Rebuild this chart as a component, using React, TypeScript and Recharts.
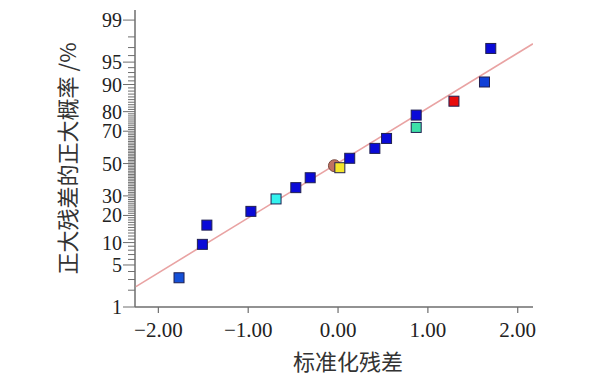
import React from "react";
import { ScatterChart, Scatter, XAxis, YAxis } from "recharts";

// standardized residual vs. normal % probability
const residuals = [-1.77, -1.51, -1.46, -0.97, -0.69, -0.47, -0.31, -0.04, 0.02, 0.13, 0.41, 0.54, 0.87, 0.87, 1.29, 1.63, 1.7];
const probabilities = [3.2, 9.5, 15.9, 21.9, 28.3, 34.8, 40.9, 48.6, 47.3, 53.4, 59.7, 65.8, 78.4, 72.1, 84.4, 90.7, 96.9];
const pointColors = [
  "#1550d8", "#0a0ad8", "#0a0ad8", "#0a0ad8", "#33f2ee", "#0a0ad8", "#0a0ad8", "#c07262", "#f5e62a",
  "#0a0ad8", "#0a0ad8", "#0a0ad8", "#0a0ad8", "#3ee0a8", "#e80c0c", "#1040d8", "#0a0ad8",
];
const pointShapes = ["sq", "sq", "sq", "sq", "sq", "sq", "sq", "circle", "sq", "sq", "sq", "sq", "sq", "sq", "sq", "sq", "sq"];

// fitted normal line (residual, %)
const fitResiduals = [-2.25, 2.17];
const fitProbabilities = [2.3, 97.4];

const xTicks = [-2, -1, 0, 1, 2];
const yLabelTicks = [1, 5, 10, 20, 30, 50, 70, 80, 90, 95, 99];
const yMinorTicks = Array.from({ length: 99 }, (_, i) => i + 1);

// inverse normal cdf (Acklam)
function probit(p: number) {
  const a = [-39.69683028665376, 220.9460984245205, -275.9285104469687, 138.357751867269, -30.66479806614716, 2.506628277459239];
  const b = [-54.47609879822406, 161.5858368580409, -155.6989798598866, 66.80131188771972, -13.28068155288572];
  const c = [-0.007784894002430293, -0.3223964580411365, -2.400758277161838, -2.549732539343734, 4.374664141464968, 2.938163982698783];
  const d = [0.007784695709041462, 0.3224671290700398, 2.445134137142996, 3.754408661907416];
  const pl = 0.02425;
  if (p < pl) {
    const q = Math.sqrt(-2 * Math.log(p));
    return (((((c[0] * q + c[1]) * q + c[2]) * q + c[3]) * q + c[4]) * q + c[5]) / ((((d[0] * q + d[1]) * q + d[2]) * q + d[3]) * q + 1);
  }
  if (p > 1 - pl) {
    const q = Math.sqrt(-2 * Math.log(1 - p));
    return -(((((c[0] * q + c[1]) * q + c[2]) * q + c[3]) * q + c[4]) * q + c[5]) / ((((d[0] * q + d[1]) * q + d[2]) * q + d[3]) * q + 1);
  }
  const q = p - 0.5;
  const r = q * q;
  return ((((((a[0] * r + a[1]) * r + a[2]) * r + a[3]) * r + a[4]) * r + a[5]) * q) / (((((b[0] * r + b[1]) * r + b[2]) * r + b[3]) * r + b[4]) * r + 1);
}

const z = (pct: number) => probit(pct / 100);

const points = residuals.map((x, i) => ({ x, y: z(probabilities[i]), color: pointColors[i], shape: pointShapes[i] }));
const fitData = fitResiduals.map((x, i) => ({ x, y: z(fitProbabilities[i]) }));

const yTickValues = yMinorTicks.map(z);
const labelSet = new Set(yLabelTicks);

const NUM_FONT = "'Liberation Serif', 'Times New Roman', serif";
const CJK_FONT = "'Noto Sans CJK SC', sans-serif";
const AXIS = "#6e6e6e";

const Marker = (props: any) => {
  const { cx, cy, payload } = props;
  if (payload.shape === "circle") {
    return <circle cx={cx} cy={cy} r={6} fill={payload.color} stroke="#7a4a40" strokeWidth={1} />;
  }
  return <rect x={cx - 5} y={cy - 5} width={10} height={10} fill={payload.color} stroke="#202050" strokeWidth={1} />;
};

const YTick = (props: any) => {
  const { x, y, index } = props;
  const pct = yMinorTicks[index];
  const major = labelSet.has(pct);
  return (
    <g>
      <line x1={x - (major ? 12 : 7)} x2={x} y1={y} y2={y} stroke={AXIS} strokeWidth={1} />
      {major && (
        <text x={x - 13} y={y} dy="0.35em" textAnchor="end" fontFamily={NUM_FONT} fontSize={20} fill="#222">
          {pct}
        </text>
      )}
    </g>
  );
};

const XTick = (props: any) => {
  const { x, y, payload } = props;
  const v = payload.value as number;
  const label = v < 0 ? "\u2212" + Math.abs(v).toFixed(2) : v.toFixed(2);
  return (
    <g>
      <line x1={x} x2={x} y1={y} y2={y + 6} stroke={AXIS} strokeWidth={1.2} />
      <text x={x} y={y + 30} textAnchor="middle" fontFamily={NUM_FONT} fontSize={21} fill="#222">
        {label}
      </text>
    </g>
  );
};

const XTitle = (props: any) => {
  const { viewBox } = props;
  return (
    <text x={viewBox.x + viewBox.width / 2 + 14} y={viewBox.y + 63} textAnchor="middle" fontFamily={CJK_FONT} fontSize={22} fill="#333">
      标准化残差
    </text>
  );
};

const YTitle = (props: any) => {
  const { viewBox } = props;
  const cx = 66;
  const cy = viewBox.y + viewBox.height / 2;
  return (
    <text x={cx} y={cy} transform={`rotate(-90 ${cx} ${cy})`} textAnchor="middle" dominantBaseline="central" fontFamily={CJK_FONT} fontSize={22} fill="#333">
      正大残差的正大概率 /%
    </text>
  );
};

export default function App() {
  return (
    <div style={{ position: "absolute", left: 0, top: 0, width: 607, height: 377, background: "#fff" }}>
      <ScatterChart width={607} height={377} margin={{ top: 10, right: 74, left: 0, bottom: 0 }}>
        <XAxis
          type="number"
          dataKey="x"
          domain={[-2.26, 2.17]}
          allowDataOverflow
          ticks={xTicks}
          interval={0}
          tickSize={0}
          tickMargin={0}
          tickLine={false}
          tick={<XTick />}
          axisLine={{ stroke: AXIS, strokeWidth: 1.5 }}
          height={70}
          label={<XTitle />}
        />
        <YAxis
          type="number"
          dataKey="y"
          domain={[z(1), 2.49]}
          allowDataOverflow
          ticks={yTickValues}
          interval={0}
          tickSize={0}
          tickMargin={0}
          tickLine={false}
          tick={<YTick />}
          axisLine={{ stroke: AXIS, strokeWidth: 1.5 }}
          width={135}
          label={<YTitle />}
        />
        <Scatter data={fitData} line={{ stroke: "#e9a3a3", strokeWidth: 1.6 }} shape={() => null} isAnimationActive={false} />
        <Scatter data={points} shape={<Marker />} isAnimationActive={false} />
      </ScatterChart>
    </div>
  );
}
